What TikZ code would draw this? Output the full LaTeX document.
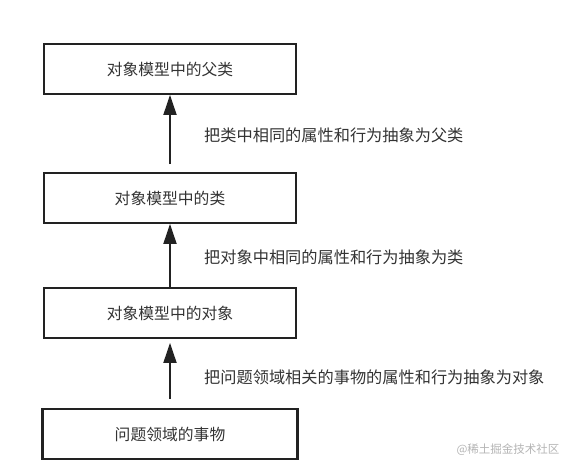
\documentclass[tikz,border=0pt]{standalone}
\usepackage{fontspec}
\newfontfamily\cjk{Noto Sans CJK SC}
\usetikzlibrary{arrows.meta,positioning}
\definecolor{linegray}{HTML}{222222}
\definecolor{textgray}{HTML}{333333}
\definecolor{markgray}{HTML}{B4B4B4}
\tikzset{
	levelbox/.style={draw=linegray, line width=1.8pt, minimum width=252pt, minimum height=50pt,
		inner sep=0pt, font=\cjk\fontsize{15.8}{18}\selectfont, text=textgray},
	upline/.style={draw=linegray, line width=1.8pt, -{Triangle[length=20pt,width=13pt]}},
	steptext/.style={anchor=west, xshift=30pt, font=\cjk\fontsize{16.2}{19}\selectfont, text=textgray}
}
\begin{document}
\begin{tikzpicture}[x=1pt,y=-1pt]
		\useasboundingbox (0,0) rectangle (576,469);
		\node[levelbox] (parent) at (170,69) {对象模型中的父类};
		\node[levelbox] (klass)  at (170,198) {对象模型中的类};
		\node[levelbox] (obj)    at (170,313) {对象模型中的对象};
		\node[levelbox, minimum width=255pt, line width=2.2pt] (thing) at (170,434) {问题领域的事物};
		\draw[upline, shorten <=8pt] (klass.north) -- (parent.south) node [steptext, midway, yshift=-2pt] (t1) {把类中相同的属性和行为抽象为父类};
		\draw[upline] (obj.north) -- (klass.south) node [steptext, midway, yshift=-2pt] (t2) {把对象中相同的属性和行为抽象为类};
		\draw[upline, shorten <=9pt, shorten >=4pt] (thing.north) -- (obj.south) node [steptext, midway, yshift=-4pt] (t3) {把问题领域相关的事物的属性和行为抽象为对象};
		\node[anchor=east, font=\cjk\fontsize{11.5}{14}\selectfont, text=markgray] (mark) at (563,450) {@稀土掘金技术社区};
	\end{tikzpicture}
\end{document}
